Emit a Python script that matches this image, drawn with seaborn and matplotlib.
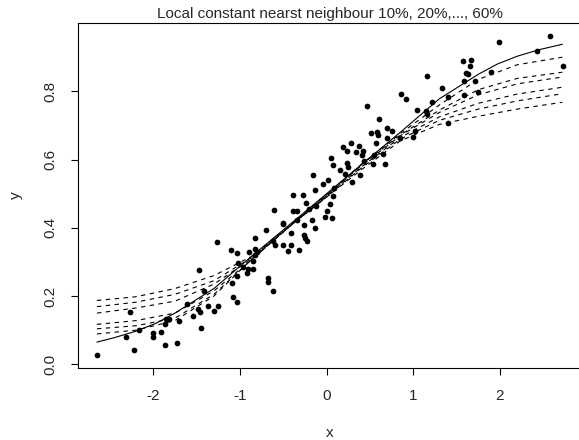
import numpy as np
import pandas as pd
import matplotlib
matplotlib.use("Agg")
import matplotlib.pyplot as plt
import seaborn as sns

# scatter points
x_pts = [-2.653, -2.318, -2.269, -2.223, -2.168, -2.007, -2.000, -1.915, -1.865, -1.862,
         -1.853, -1.822, -1.730, -1.704, -1.615, -1.539, -1.488, -1.469, -1.461, -1.453,
         -1.415, -1.373, -1.296, -1.268, -1.257,
         -0.161, 0.018, -0.046, -0.135, 0.084, 0.069, -0.392, -0.270, -0.239, -0.123,
         -0.608, -0.392, -0.346, -0.201, 0.000, -0.016, 0.065, -0.173, -0.346, -0.508,
         -0.501, -0.262, -0.135, -0.415, -0.700, -0.262, -0.250, -0.231, -0.827, -0.623,
         -0.596, -0.508, -0.415, -0.316, -0.443, -1.107, -1.038, -0.893, -0.827, -0.800,
         -0.827, -0.854, -1.027, -0.969, -0.911, -0.847, -0.923, -1.038, -1.096, -0.674,
         -0.674, -0.623, -1.077, -1.038,
         0.857, 0.915, 0.461, 0.607, 1.211, 1.045, 0.699, 0.750, 0.511, 0.577,
         0.595, 1.018, 0.992, 0.845, 0.692, 0.569, 0.280, 0.185, 0.376, 0.231,
         0.338, 0.422, 0.404, 0.546, 0.653, 0.430, 0.531, 0.672, 0.046, 0.076,
         0.231, 0.249, 0.153, 0.211, 0.384, 0.288, 0.038,
         2.576, 1.991, 2.422, 2.722, 1.576, 1.661, 1.653, 1.607, 1.626, 1.892,
         1.153, 1.587, 1.714, 1.330, 1.749, 1.403, 1.587, 1.145, 1.153, 1.399]
y_pts = [0.027, 0.081, 0.154, 0.042, 0.101, 0.093, 0.081, 0.096, 0.057, 0.118,
         0.132, 0.132, 0.062, 0.128, 0.177, 0.142, 0.161, 0.277, 0.152, 0.106,
         0.215, 0.171, 0.156, 0.358, 0.171,
         0.555, 0.541, 0.528, 0.511, 0.516, 0.494, 0.496, 0.496, 0.472, 0.464,
         0.452, 0.449, 0.449, 0.455, 0.450, 0.433, 0.430, 0.423, 0.423, 0.415,
         0.411, 0.409, 0.399, 0.386, 0.394, 0.379, 0.370, 0.360, 0.370, 0.360,
         0.350, 0.350, 0.350, 0.335, 0.333, 0.335, 0.327, 0.330, 0.337, 0.330,
         0.321, 0.304, 0.298, 0.286, 0.279, 0.279, 0.269, 0.259, 0.238, 0.252,
         0.242, 0.216, 0.198, 0.184,
         0.793, 0.777, 0.757, 0.718, 0.770, 0.744, 0.694, 0.685, 0.679, 0.682,
         0.672, 0.685, 0.667, 0.663, 0.663, 0.648, 0.648, 0.638, 0.640, 0.626,
         0.623, 0.626, 0.614, 0.614, 0.617, 0.597, 0.587, 0.587, 0.604, 0.584,
         0.591, 0.579, 0.568, 0.558, 0.555, 0.535, 0.470,
         0.963, 0.944, 0.919, 0.875, 0.889, 0.892, 0.875, 0.855, 0.850, 0.857,
         0.845, 0.829, 0.829, 0.810, 0.799, 0.782, 0.788, 0.741, 0.733, 0.707]

# solid curve, read at more x positions (it bends near the ends)
truth_x = [-2.65, -2.45, -2.2, -1.97, -1.75, -1.3, -0.85, -0.4, 0.0, 0.4, 0.85, 1.3,
           1.75, 1.97, 2.2, 2.45, 2.72]
truth = [0.065, 0.078, 0.097, 0.120, 0.150, 0.222, 0.320, 0.415, 0.500, 0.585, 0.680,
         0.778, 0.850, 0.880, 0.903, 0.922, 0.938]

# nearest neighbour fits 10%..60%
grid = [-2.65, -2.2, -1.75, -1.3, -0.85, -0.4, 0.0, 0.4, 0.85, 1.3, 1.75, 2.2, 2.72]
nn10 = [0.089, 0.100, 0.128, 0.200, 0.312, 0.412, 0.497, 0.586, 0.676, 0.760, 0.835, 0.878, 0.900]
nn20 = [0.104, 0.113, 0.135, 0.205, 0.310, 0.410, 0.495, 0.585, 0.672, 0.745, 0.805, 0.838, 0.856]
nn30 = [0.117, 0.128, 0.150, 0.215, 0.310, 0.410, 0.495, 0.582, 0.670, 0.738, 0.790, 0.822, 0.842]
nn40 = [0.150, 0.165, 0.185, 0.235, 0.312, 0.410, 0.492, 0.578, 0.665, 0.725, 0.765, 0.792, 0.812]
nn50 = [0.169, 0.182, 0.205, 0.245, 0.315, 0.410, 0.490, 0.575, 0.660, 0.715, 0.748, 0.772, 0.793]
nn60 = [0.187, 0.198, 0.222, 0.260, 0.318, 0.410, 0.490, 0.570, 0.655, 0.703, 0.727, 0.748, 0.768]

sns.set_style("ticks")
plt.rcParams['font.family'] = ['Liberation Sans', 'DejaVu Sans']

fig = plt.figure(figsize=(5.79, 4.4), dpi=100)
ax = fig.add_axes([0.1352, 0.1643, 0.868, 0.7832])

pts = pd.DataFrame({'x': x_pts, 'y': y_pts})
sns.scatterplot(data=pts, x='x', y='y', ax=ax, color='black', s=17, linewidth=0)

sns.lineplot(x=truth_x, y=truth, ax=ax, color='black', lw=0.8, sort=False)
for fit in [nn10, nn20, nn30, nn40, nn50, nn60]:
    sns.lineplot(x=grid, y=fit, ax=ax, color='black', lw=0.8, sort=False,
                 dashes=False, linestyle=(0, (4, 4)))

ax.set_xlim(-2.865, 2.933)
ax.set_ylim(-0.010, 1.000)
ax.set_xticks([-2, -1, 0, 1, 2])
ax.set_xticklabels(['-2', '-1', '0', '1', '2'])
ax.set_yticks([0.0, 0.2, 0.4, 0.6, 0.8])
ax.set_yticklabels(['0.0', '0.2', '0.4', '0.6', '0.8'])
ax.tick_params(axis='both', length=5, width=0.8, color='black', labelsize=11, pad=10)
for lab in ax.get_yticklabels():
    lab.set_rotation(90)
    lab.set_va('center')

for sp in ax.spines.values():
    sp.set_color('black')
    sp.set_linewidth(0.8)

ax.set_xlabel('x', fontsize=11, labelpad=17)
ax.set_ylabel('y', fontsize=11, labelpad=15)
ax.set_title('Local constant nearst neighbour 10%, 20%,..., 60%', fontsize=11, pad=4)

fig.savefig('out.png', dpi=100)
